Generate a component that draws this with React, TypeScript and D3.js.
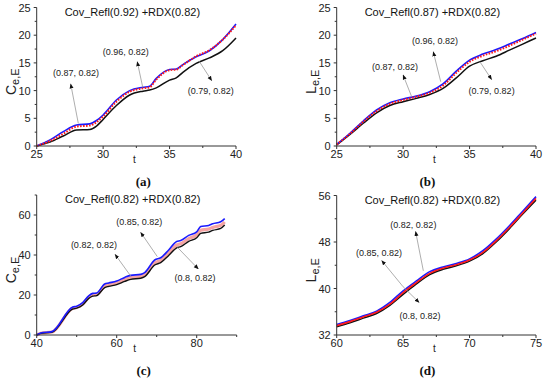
import * as d3 from 'd3';

// panel (a): C_e,E vs t, Cov_Refl(0.92)
const tA = [25, 26, 27, 28, 29, 29.5, 30, 31, 32, 33, 33.5, 34, 35, 35.5, 36, 37, 38, 39, 40];
const blueA = [0, 1.1, 2.6, 3.8, 4.0, 4.6, 5.6, 8.3, 10.0, 10.6, 10.8, 12.2, 13.8, 13.9, 14.7, 16.1, 17.2, 19.2, 22.0];
const redA = [0, 0.9, 2.2, 3.5, 3.7, 4.3, 5.3, 8.0, 9.8, 10.4, 10.6, 12.0, 13.7, 13.8, 14.6, 16.2, 17.3, 19.2, 21.8];
const blackA = [0, 0.7, 1.8, 2.9, 3.0, 3.6, 4.8, 7.3, 9.2, 9.9, 10.1, 10.5, 11.9, 12.3, 13.3, 14.9, 15.9, 17.2, 19.5];

// panel (b): L_e,E vs t, Cov_Refl(0.87)
const tB = [25, 26, 27, 28, 29, 30, 31, 32, 33, 34, 35, 36, 37, 38, 39, 40];
const blueB = [0.3, 2.3, 4.5, 6.5, 7.8, 8.5, 9.0, 9.8, 11.2, 13.5, 15.5, 16.6, 17.4, 18.4, 19.4, 20.5];
const redB = [0.3, 2.2, 4.4, 6.3, 7.6, 8.3, 8.9, 9.6, 10.9, 13.2, 15.2, 16.3, 17.1, 18.1, 19.2, 20.3];
const blackB = [0.2, 2.1, 4.1, 6.0, 7.3, 8.0, 8.6, 9.3, 10.4, 12.3, 14.4, 15.4, 16.2, 17.3, 18.4, 19.5];

// panel (c): C_e,E vs t, Cov_Refl(0.82)
const tC = [40, 41, 43.8, 49, 50, 51.5, 53, 54, 55, 57, 58, 60, 62, 63.5, 66, 67, 69.5, 71, 73, 75, 76, 78, 80, 81, 83, 84, 86, 87];
const blueC = [0, 1.0, 1.7, 14.0, 14.4, 16.2, 19.6, 20.8, 21.0, 25.5, 26.0, 27.0, 28.8, 29.8, 30.3, 31.2, 37.5, 38.6, 42.5, 46.8, 47.2, 49.8, 51.6, 54.2, 54.8, 55.6, 56.6, 58.2];
const pinkC = [0, 0.9, 1.5, 13.4, 13.8, 15.5, 18.9, 20.0, 20.3, 24.5, 25.1, 26.0, 27.7, 28.7, 29.3, 30.1, 36.1, 37.3, 41.0, 45.0, 45.6, 48.2, 50.0, 52.4, 53.0, 53.8, 54.8, 56.5];
const blackC = [0, 0.8, 1.4, 13.0, 13.4, 15.0, 18.3, 19.4, 19.7, 23.7, 24.3, 25.2, 26.8, 27.8, 28.4, 29.2, 35.0, 36.2, 39.8, 43.6, 44.2, 46.8, 48.6, 50.8, 51.4, 52.3, 53.3, 55.0];

// panel (d): L_e,E vs t, Cov_Refl(0.82)
const tD = [60, 61, 62, 63, 64, 65, 66, 67, 68, 69, 70, 71, 72, 73, 74, 75];
const blueD = [33.8, 34.5, 35.3, 36.1, 37.6, 39.6, 41.3, 42.9, 43.7, 44.3, 45.1, 46.5, 48.5, 50.8, 53.3, 55.8];
const redD = [33.6, 34.3, 35.1, 35.9, 37.3, 39.3, 41.0, 42.6, 43.5, 44.1, 44.9, 46.2, 48.2, 50.5, 53.0, 55.5];
const blackD = [33.4, 34.1, 34.9, 35.7, 37.1, 39.0, 40.8, 42.4, 43.3, 43.9, 44.7, 46.0, 48.0, 50.3, 52.8, 55.2];

// annotations: [text, labelT, labelV, tipT, tipV, targetT, targetV]
type Note = [string, number, number, number, number, number, number];
const notesA: Note[] = [
  ['(0.87, 0.82)', 27.96, 13.2, 27.56, 11.2, 28.13, 4.1],
  ['(0.96, 0.82)', 31.7, 16.9, 32.57, 15.2, 32.98, 10.6],
  ['(0.79, 0.82)', 38.1, 10.0, 38.17, 11.8, 37.23, 15.3],
];
const notesB: Note[] = [
  ['(0.87, 0.82)', 29.39, 14.3, 30.0, 12.8, 30.64, 8.9],
  ['(0.96, 0.82)', 32.4, 19.0, 32.27, 17.0, 32.83, 11.6],
  ['(0.79, 0.82)', 36.66, 9.9, 36.66, 12.0, 35.78, 15.2],
];
const notesC: Note[] = [
  ['(0.82, 0.82)', 54.3, 45, 59.6, 40.3, 63.5, 29.5],
  ['(0.85, 0.82)', 65.65, 56.7, 66.0, 51.3, 70.15, 39.2],
  ['(0.8, 0.82)', 79.6, 28.3, 80.4, 33.0, 75.2, 43.8],
];
const notesD: Note[] = [
  ['(0.82, 0.82)', 65.77, 51.0, 65.94, 49.8, 66.52, 43.05],
  ['(0.85, 0.82)', 63.19, 46.1, 63.39, 44.8, 65.0, 40.3],
  ['(0.8, 0.82)', 66.27, 35.2, 66.2, 37.6, 65.0, 40.3],
];

const FONT = '"Liberation Sans", Arial, sans-serif';

interface Series {
  values: number[];
  color: string;
  width: number;
  dash?: string;
}

interface PanelProps {
  id: string;
  left: number;
  right: number;
  top: number;
  bottom: number;
  xDomain: [number, number];
  yDomain: [number, number];
  xMajor: number[];
  xMinor: number[];
  yMajor: number[];
  yMinor: number[];
  t: number[];
  series: Series[];
  notes: Note[];
  title: string;
  yMain: string;
  caption: string;
}

function Panel(p: PanelProps) {
  const x = d3.scaleLinear().domain(p.xDomain).range([p.left, p.right]);
  const y = d3.scaleLinear().domain(p.yDomain).range([p.bottom, p.top]);
  const line = (vals: number[]) =>
    d3.line<number>()
      .x((_, i) => x(p.t[i]))
      .y(v => y(v))
      .curve(d3.curveMonotoneX)(vals) as string;
  const cx = (p.left + p.right) / 2;
  const cy = (p.top + p.bottom) / 2;
  const axisColor = '#333';

  return (
    <g fontFamily={FONT}>
      {p.series.map((s, i) => (
        <path key={i} d={line(s.values)} fill="none" stroke={s.color}
          strokeWidth={s.width} strokeDasharray={s.dash} />
      ))}

      {/* axes */}
      <line x1={p.left} x2={p.right} y1={p.bottom} y2={p.bottom} stroke={axisColor} strokeWidth={1} />
      <line x1={p.left} x2={p.left} y1={p.bottom} y2={p.top} stroke={axisColor} strokeWidth={1} />
      {p.xMajor.map(v => (
        <g key={'xm' + v}>
          <line x1={x(v)} x2={x(v)} y1={p.bottom} y2={p.bottom + 3} stroke={axisColor} />
          <text x={x(v)} y={p.bottom + 12} fontSize={11} textAnchor="middle" fill="#222">{v}</text>
        </g>
      ))}
      {p.xMinor.map(v => (
        <line key={'xn' + v} x1={x(v)} x2={x(v)} y1={p.bottom} y2={p.bottom + 2} stroke={axisColor} />
      ))}
      {p.yMajor.map(v => (
        <g key={'ym' + v}>
          <line x1={p.left - 3} x2={p.left} y1={y(v)} y2={y(v)} stroke={axisColor} />
          <text x={p.left - 6} y={y(v) + 4} fontSize={11} textAnchor="end" fill="#222">{v}</text>
        </g>
      ))}
      {p.yMinor.map(v => (
        <line key={'yn' + v} x1={p.left - 2} x2={p.left} y1={y(v)} y2={y(v)} stroke={axisColor} />
      ))}

      {/* annotations */}
      {p.notes.map((n, i) => (
        <g key={'n' + i}>
          <line x1={x(n[5])} y1={y(n[6])} x2={x(n[3])} y2={y(n[4])}
            stroke="#999" strokeWidth={0.8} markerEnd={`url(#arrow-${p.id})`} />
          <text x={x(n[1])} y={y(n[2]) + 3} fontSize={9} textAnchor="middle" fill="#222">{n[0]}</text>
        </g>
      ))}

      <text x={cx - 4} y={p.top + 8} fontSize={11} textAnchor="middle" fill="#111">{p.title}</text>
      <text x={cx - 2} y={p.bottom + 17} fontSize={10} textAnchor="middle" fill="#222">t</text>
      <text transform={`translate(${p.left - 21},${cy + 5}) rotate(-90)`} textAnchor="middle" fill="#222">
        <tspan fontSize={14}>{p.yMain}</tspan>
        <tspan fontSize={11} dy={3}>e,E</tspan>
      </text>
      <text x={cx + (p.id === 'a' || p.id === 'c' ? 7 : -9)} y={p.bottom + 40} fontSize={13}
        fontFamily='"Liberation Serif", "Times New Roman", serif' fontWeight="bold"
        textAnchor="middle" fill="#111">{p.caption}</text>

      <defs>
        <marker id={`arrow-${p.id}`} viewBox="0 0 10 10" refX={9} refY={5}
          markerWidth={5} markerHeight={5} orient="auto" markerUnits="userSpaceOnUse">
          <path d="M0,1 L10,5 L0,9 z" fill="#111" />
        </marker>
      </defs>
    </g>
  );
}

export default function App() {
  return (
    <svg width={550} height={382} style={{ position: 'absolute', left: 0, top: 0, background: '#fff' }}>
      <Panel id="a" left={36.7} right={236} top={7.5} bottom={146}
        xDomain={[25, 40]} yDomain={[0, 25]}
        xMajor={[25, 30, 35, 40]} xMinor={[27.5, 32.5, 37.5]}
        yMajor={[0, 5, 10, 15, 20, 25]} yMinor={[2.5, 7.5, 12.5, 17.5, 22.5]}
        t={tA}
        series={[
          { values: blackA, color: '#111', width: 1.5 },
          { values: blueA, color: '#1a1aff', width: 1.6 },
          { values: redA, color: '#ff1a1a', width: 2, dash: '1.6,1.4' },
        ]}
        notes={notesA} title="Cov_Refl(0.92) +RDX(0.82)" yMain="C" caption="(a)" />
      <Panel id="b" left={336.7} right={536} top={7.5} bottom={146}
        xDomain={[25, 40]} yDomain={[0, 25]}
        xMajor={[25, 30, 35, 40]} xMinor={[27.5, 32.5, 37.5]}
        yMajor={[0, 5, 10, 15, 20, 25]} yMinor={[2.5, 7.5, 12.5, 17.5, 22.5]}
        t={tB}
        series={[
          { values: blackB, color: '#111', width: 1.5 },
          { values: blueB, color: '#1a1aff', width: 1.6 },
          { values: redB, color: '#ff1a1a', width: 2, dash: '1.6,1.4' },
        ]}
        notes={notesB} title="Cov_Refl(0.87) +RDX(0.82)" yMain="L" caption="(b)" />
      <Panel id="c" left={36.7} right={236.7} top={195} bottom={335}
        xDomain={[40, 90]} yDomain={[0, 70]}
        xMajor={[40, 60, 80]} xMinor={[50, 70, 90]}
        yMajor={[0, 20, 40, 60]} yMinor={[10, 30, 50, 70]}
        t={tC}
        series={[
          { values: pinkC, color: '#f5a3a3', width: 3.2 },
          { values: blackC, color: '#111', width: 1.4 },
          { values: blueC, color: '#1a1aff', width: 1.6 },
        ]}
        notes={notesC} title="Cov_Refl(0.82) +RDX(0.82)" yMain="C" caption="(c)" />
      <Panel id="d" left={336.7} right={536} top={195.5} bottom={335}
        xDomain={[60, 75]} yDomain={[32, 56]}
        xMajor={[60, 65, 70, 75]} xMinor={[62.5, 67.5, 72.5]}
        yMajor={[32, 40, 48, 56]} yMinor={[36, 44, 52]}
        t={tD}
        series={[
          { values: blackD, color: '#111', width: 1.5 },
          { values: blueD, color: '#1a1aff', width: 1.6 },
          { values: redD, color: '#ff1a1a', width: 1.6 },
        ]}
        notes={notesD} title="Cov_Refl(0.82) +RDX(0.82)" yMain="L" caption="(d)" />
    </svg>
  );
}
